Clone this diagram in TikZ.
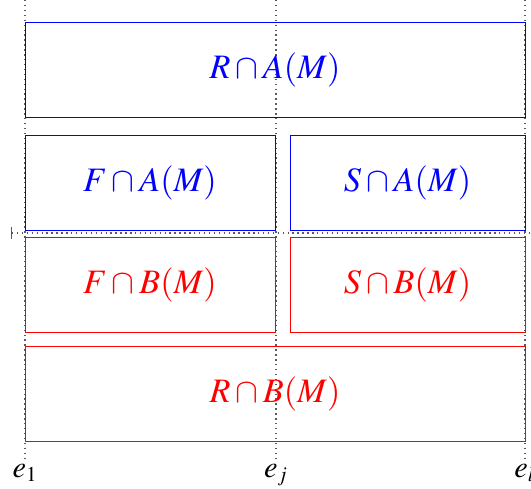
\documentclass[tikz,border=0pt]{standalone}
\usepackage{mathptmx}
\usepackage{tikz}
\usetikzlibrary{arrows.meta,positioning}
\definecolor{gridgray}{RGB}{90,90,90}

\begin{document}
\begin{tikzpicture}[
  x=0.02cm, y=-0.02cm,
  every node/.style={font=\LARGE},
  setbox/.style={rectangle, draw, line width=0.5pt, inner sep=0pt,
    minimum height=1.9cm, font=\fontsize{19.5}{23}\selectfont},
  abox/.style={setbox, draw=blue, text=blue},
  bbox/.style={setbox, draw=red, text=red},
  guide/.style={dotted, thick, color=gridgray}
]
  \useasboundingbox (0,0) rectangle (531,488);

  % edge guides
  \foreach \n/\x in {one/25, jay/276, ell/525} {
    \coordinate (top\n) at (\x,0);
    \coordinate (bot\n) at (\x,458);
  }
  \draw[guide] (topone) -- (botone);
  \draw[guide] (topjay) -- (botjay);
  \draw[guide] (topell) -- (botell);
  \coordinate (midl) at (11,233);
  \coordinate (midr) at (531,233);
  \draw[guide, {Bar[width=7pt,line width=0.8pt]}-] (midl) -- (midr);

  % A(M) above, B(M) below
  \node[abox, minimum width=10cm] (ra) at (275,69.5) {$R \cap A(M)$};
  \node[abox, minimum width=5cm] (fa) at (150,182.5) {$F \cap A(M)$};
  \node[abox, minimum width=4.7cm] (sa) at (407.5,182.5) {$S \cap A(M)$};
  \node[bbox, minimum width=5cm] (fb) at (150,284.5) {$F \cap B(M)$};
  \node[bbox, minimum width=4.7cm] (sb) at (407.5,284.5) {$S \cap B(M)$};
  \node[bbox, minimum width=10cm] (rb) at (275,394) {$R \cap B(M)$};

  \node[below=0pt of botone] (eone) {$e_1$};
  \node[below=0pt of botjay] (ejay) {$e_j$};
  \node[below=0pt of botell] (eell) {$e_l$};
\end{tikzpicture}
\end{document}
